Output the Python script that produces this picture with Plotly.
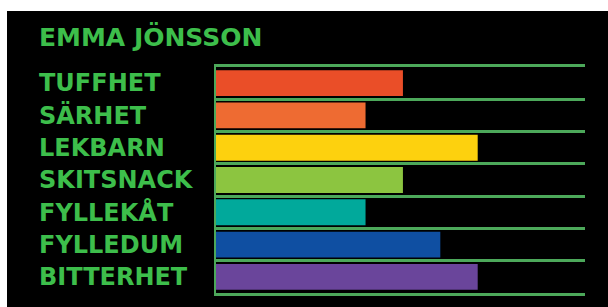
import plotly.graph_objects as go

title_text = "EMMA JÖNSSON"
categories = ["TUFFHET", "SÄRHET", "LEKBARN", "SKITSNACK", "FYLLEKÅT", "FYLLEDUM", "BITTERHET"]
values = [5, 4, 7, 5, 4, 6, 7]
bar_colors = ["#EA4E28", "#EE6B32", "#FDD10E", "#8CC540", "#01A99B", "#0F4FA2", "#6A459B"]

GREEN_TEXT = "#3DBE4B"
GREEN_LINE = "#4CA85A"

W, H = 608, 307
ML, MR, MT, MB = 216, 23, 67, 14
pw, ph = W - ML - MR, H - MT - MB

def px_to_paper_x(px):
    return (px - ML) / pw

def px_to_paper_y(py):
    return (H - MB - py) / ph

fig = go.Figure(go.Bar(
    x=values, y=categories, orientation="h",
    marker=dict(color=bar_colors, line=dict(width=0)),
    width=0.8, hoverinfo="skip",
))

annotations = [dict(
    text=title_text, xref="paper", yref="paper",
    x=px_to_paper_x(37), y=px_to_paper_y(37), xanchor="left", yanchor="middle",
    showarrow=False, font=dict(family="DejaVu Sans", size=25, color=GREEN_TEXT, weight="bold"),
)]
for c in categories:
    annotations.append(dict(
        text=c, xref="paper", yref="y", x=px_to_paper_x(37), y=c,
        xanchor="left", yanchor="middle", showarrow=False,
        font=dict(family="DejaVu Sans", size=24, color=GREEN_TEXT, weight="bold"),
    ))

shapes = [
    dict(type="rect", xref="paper", yref="paper", x0=px_to_paper_x(-2), x1=px_to_paper_x(W + 2),
         y0=px_to_paper_y(11), y1=px_to_paper_y(-2), fillcolor="white", line=dict(width=0), layer="above"),
    dict(type="rect", xref="paper", yref="paper", x0=px_to_paper_x(-2), x1=px_to_paper_x(7),
         y0=px_to_paper_y(H + 2), y1=px_to_paper_y(-2), fillcolor="white", line=dict(width=0), layer="above"),
]

fig.update_layout(
    width=W, height=H,
    margin=dict(l=ML, r=MR, t=MT, b=MB, pad=0),
    paper_bgcolor="black", plot_bgcolor="black",
    showlegend=False, bargap=0.2,
    annotations=annotations, shapes=shapes,
    xaxis=dict(range=[0, 9.87], showgrid=False, zeroline=False, showticklabels=False, ticks="",
               showline=True, mirror=True, linecolor=GREEN_LINE, linewidth=2.5),
    yaxis=dict(type="category", autorange="reversed", tickson="boundaries", showgrid=True,
               gridcolor=GREEN_LINE, gridwidth=2.5, showticklabels=False, ticks="",
               showline=True, linecolor=GREEN_LINE, linewidth=2, zeroline=False),
)

fig.write_html(
    "out.html",
    config={"displayModeBar": False},
    post_script="document.body.style.margin='0';document.body.style.overflow='hidden';",
)
